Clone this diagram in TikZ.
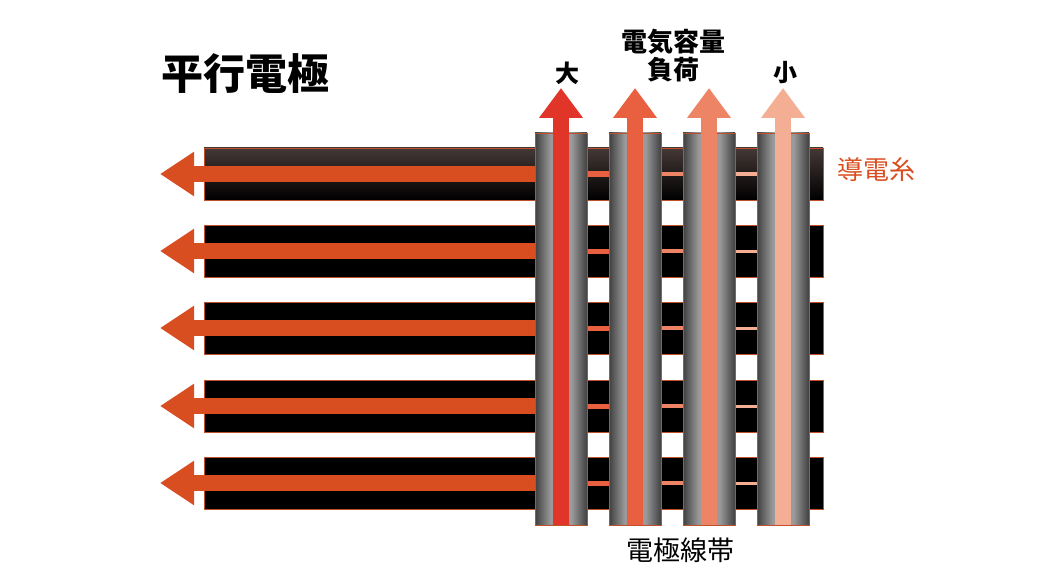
\documentclass[tikz,border=0pt]{standalone}
\usepackage{fontspec}
\setmainfont{Noto Sans CJK JP}
\usetikzlibrary{arrows.meta}
\definecolor{strand}{HTML}{D94E20}
\definecolor{edge}{HTML}{C0502A}
\definecolor{arrA}{HTML}{E2352A}
\definecolor{arrB}{HTML}{E8603F}
\definecolor{arrC}{HTML}{EE8466}
\definecolor{arrD}{HTML}{F3AE93}
\definecolor{topbar}{HTML}{443836}
\definecolor{stripdark}{HTML}{404040}
\definecolor{striplight}{HTML}{9A9A9A}
\pgfdeclarehorizontalshading{stripshade}{100bp}{color(0bp)=(stripdark); color(25bp)=(stripdark); color(40bp)=(striplight); color(60bp)=(striplight); color(75bp)=(stripdark); color(100bp)=(stripdark)}
\tikzset{
  bar/.style={fill=black,draw=edge,line width=0.6},
  strip/.style={shading=stripshade,draw=edge,line width=0.6},
  larrow/.style={strand,line width=16,-{Triangle[width=42,length=34]}},
  uparrow/.style={line width=16,-{Triangle[width=42,length=30]}},
  label/.style={font=\bfseries\fontsize{24}{26}\selectfont,align=center}
}
\begin{document}
\begin{tikzpicture}[x=1pt,y=-1pt]
\useasboundingbox (0,0) rectangle (1040,580);
% conductive bars
\foreach \i/\y in {1/148,2/225,3/302,4/380,5/457}{
  \ifnum\i=1
    \path[bar,top color=topbar,bottom color=black] (204,\y) rectangle (823,\y+52);
  \else
    \path[bar] (204,\y) rectangle (823,\y+52);
  \fi
  \coordinate (tail\i) at (535,\y+26);
  \coordinate (tip\i) at (160,\y+26);
  \fill[arrB] (587,\y+23.5) rectangle (609,\y+28.5);
  \fill[arrC] (660,\y+24) rectangle (683,\y+28);
  \fill[arrD] (734,\y+24.5) rectangle (757,\y+27.5);
  \draw[larrow] (tail\i) -- (tip\i);
}
% electrode strips
\foreach \n/\x/\c in {a/535/arrA,b/609/arrB,c/683/arrC,d/757/arrD}{
  \path[strip] (\x,133) rectangle (\x+52,525);
  \coordinate (bot\n) at (\x+26,525);
  \coordinate (top\n) at (\x+26,88);
  \draw[uparrow,\c] (bot\n) -- (top\n);
}
\node (title) [font=\bfseries\fontsize{42}{46}\selectfont,anchor=west] at (158,74) {平行電極};
\node (big) [label] at (567,73) {大};
\node (small) [label] at (785,73) {小};
\node (load) [label,font=\bfseries\fontsize{26}{28}\selectfont] at (673,56) {電気容量\\負荷};
\node (yarn) [font=\fontsize{26}{28}\selectfont,text=strand,anchor=west] at (834,170) {導電糸};
\node (band) [font=\fontsize{27}{29}\selectfont] at (680,550) {電極線帯};
\end{tikzpicture}
\end{document}
